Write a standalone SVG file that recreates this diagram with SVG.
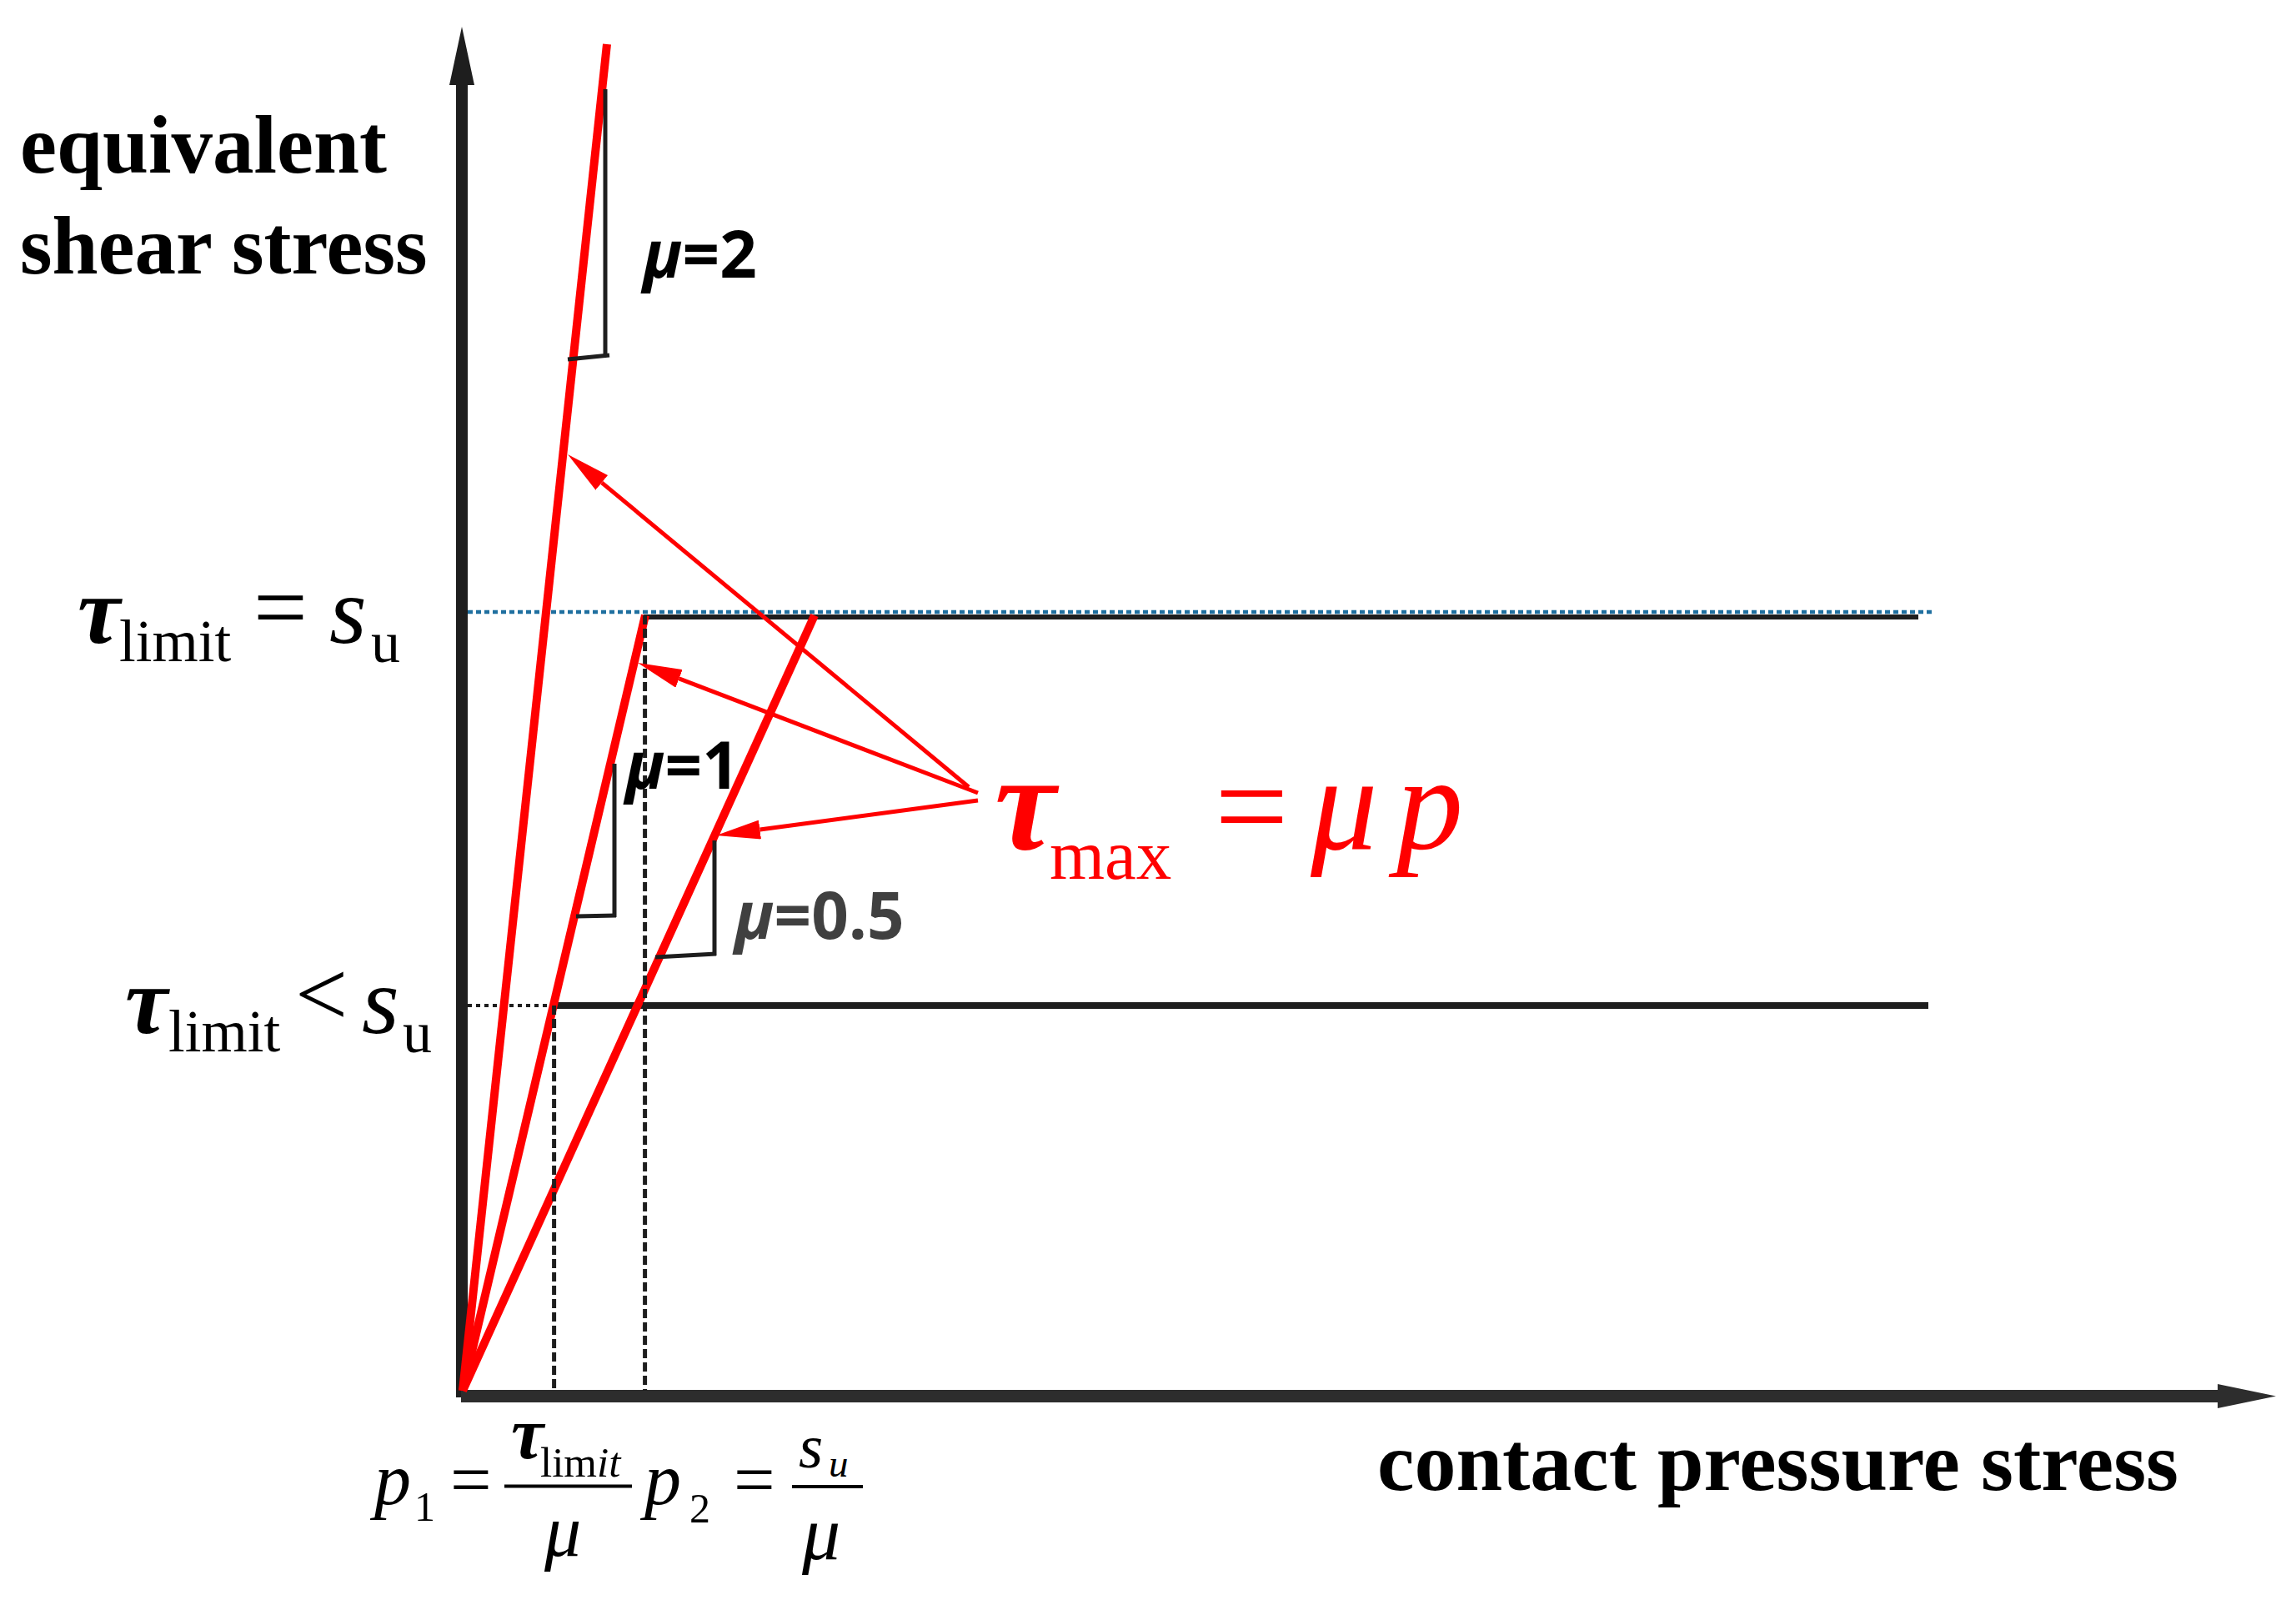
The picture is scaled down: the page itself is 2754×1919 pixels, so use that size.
<svg xmlns="http://www.w3.org/2000/svg" width="2754" height="1919" viewBox="0 0 2754 1919">
<defs>
<style>
.serif{font-family:"Liberation Serif","Times New Roman",serif;fill:#000;}
.title{font-family:"Liberation Serif","Times New Roman",serif;font-weight:bold;font-size:99px;fill:#000;}
.mu{font-family:"Open Sans","Noto Sans",sans-serif;font-weight:bold;font-size:78px;}
.bi{font-weight:bold;font-style:italic;}
.it{font-style:italic;}
.red{stroke:#ff0000;stroke-width:10;fill:none;}
.ann{stroke:#ff0000;stroke-width:5;fill:none;marker-end:url(#ah);}
.tri{stroke:#1e1e1e;stroke-width:5;fill:none;}
.dash{stroke:#1e1e1e;stroke-width:5;stroke-dasharray:11 5;fill:none;}
</style>
<marker id="ah" markerUnits="userSpaceOnUse" markerWidth="53" markerHeight="23" refX="0" refY="11.5" orient="auto" viewBox="0 0 53 23"><path d="M0,0 L53,11.5 L0,23 Z" fill="#ff0000"/></marker>
</defs>
<rect x="0" y="0" width="2754" height="1919" fill="#ffffff"/>

<g id="y-axis">
<line x1="554" y1="100" x2="554" y2="1676" stroke="#1e1e1e" stroke-width="14"/>
<polygon points="539,102 554,32 569,102" fill="#1e1e1e"/>
</g>
<g id="x-axis">
<line x1="553" y1="1674.5" x2="2662" y2="1674.5" stroke="#2d2d2d" stroke-width="15"/>
<polygon points="2660,1660 2730,1674.5 2660,1689" fill="#2d2d2d"/>
</g>

<g id="limit-lines">
<line x1="772" y1="740" x2="2301" y2="740" stroke="#1e1e1e" stroke-width="6"/>
<line x1="561" y1="734" x2="2318" y2="734" stroke="#1f6f9f" stroke-width="4.5" stroke-dasharray="6 4"/>
<line x1="663" y1="1206" x2="2313" y2="1206" stroke="#1e1e1e" stroke-width="8"/>
<line x1="561" y1="1206" x2="663" y2="1206" stroke="#1e1e1e" stroke-width="4" stroke-dasharray="5 5"/>
</g>

<g id="friction-lines">
<line class="red" x1="555" y1="1668" x2="728" y2="53"/>
<line class="red" x1="555" y1="1668" x2="774" y2="738"/>
<line class="red" x1="555" y1="1668" x2="977" y2="738"/>
</g>

<g id="projection-lines">
<line class="dash" x1="664.6" y1="1206" x2="664.6" y2="1668"/>
<line class="dash" x1="773.6" y1="738" x2="773.6" y2="1668"/>
</g>

<g id="slope-triangles">
<line class="tri" x1="726" y1="107" x2="726" y2="428"/>
<line class="tri" x1="681" y1="431" x2="731" y2="426"/>
<line class="tri" x1="737" y1="916" x2="737" y2="1100"/>
<line class="tri" x1="691" y1="1099" x2="739" y2="1098"/>
<line class="tri" x1="857" y1="1008" x2="857" y2="1146"/>
<line class="tri" x1="786" y1="1148" x2="859" y2="1144"/>
</g>

<g id="connectors">
<path class="ann" d="M1162,944 L721.8,578.8"/>
<path class="ann" d="M1173,951 L814.5,813.9"/>
<path class="ann" d="M1173,960 L911.5,995"/>
</g>

<g id="y-axis-title">
<text class="title" x="24" y="207">equivalent</text>
<text class="title" x="24" y="328">shear stress</text>
</g>
<g id="x-axis-title">
<text class="title" x="1652" y="1787" font-size="100" style="font-size:100px">contact pressure stress</text>
</g>

<g id="label-tau-eq-su">
<text class="serif" font-size="115"><tspan x="93" y="771" class="bi">τ</tspan><tspan x="143" y="793" font-size="71">limit</tspan><tspan x="304" y="767">=</tspan><tspan x="395" y="771" class="it">s</tspan><tspan x="445" y="794" font-size="70">u</tspan></text>
</g>
<g id="label-tau-lt-su">
<text class="serif" font-size="115"><tspan x="150" y="1239" class="bi">τ</tspan><tspan x="202" y="1261" font-size="71">limit</tspan><tspan x="354" y="1230" font-size="112">&lt;</tspan><tspan x="434" y="1239" class="it">s</tspan><tspan x="483" y="1262" font-size="70">u</tspan></text>
</g>

<g id="label-mu2"><text class="mu" fill="#000"><tspan x="771" y="333" font-style="italic">μ</tspan>=2</text></g>
<g id="label-mu1"><text class="mu" fill="#000"><tspan x="750" y="946" font-style="italic">μ</tspan>=1</text></g>
<g id="label-mu05"><text class="mu" fill="#404040"><tspan x="881" y="1126" font-style="italic">μ</tspan>=0.5</text></g>

<g id="label-taumax">
<text class="serif" style="fill:#ff0000"><tspan x="1193" y="1018" font-size="165" class="bi">τ</tspan><tspan x="1259" y="1054" font-size="85">max</tspan><tspan x="1457" y="1020" font-size="157">=</tspan><tspan x="1572" y="1018" font-size="160" class="it">μ</tspan><tspan x="1675" y="1018" font-size="160" class="it">p</tspan></text>
</g>

<g id="label-p1">
<text class="serif" font-size="88"><tspan x="449" y="1804" class="it">p</tspan><tspan x="497" y="1824" font-size="50">1</tspan><tspan x="540" y="1804">=</tspan></text>
<text class="serif bi" x="613" y="1749" font-size="88">τ</text>
<text class="serif" y="1771" font-size="51"><tspan x="648">lim</tspan><tspan class="it">it</tspan></text>
<line x1="605" y1="1782.5" x2="758" y2="1782.5" stroke="#000" stroke-width="4"/>
<text class="serif it" x="653" y="1866" font-size="88">μ</text>
</g>
<g id="label-p2">
<text class="serif" font-size="88"><tspan x="773" y="1804" class="it">p</tspan><tspan x="827" y="1826" font-size="50">2</tspan><tspan x="880" y="1804">=</tspan></text>
<text class="serif it" x="958" y="1760" font-size="75">s</text>
<text class="serif it" x="994" y="1771" font-size="47">u</text>
<line x1="950" y1="1783" x2="1035" y2="1783" stroke="#000" stroke-width="4"/>
<text class="serif it" x="962" y="1870" font-size="92">μ</text>
</g>
</svg>
